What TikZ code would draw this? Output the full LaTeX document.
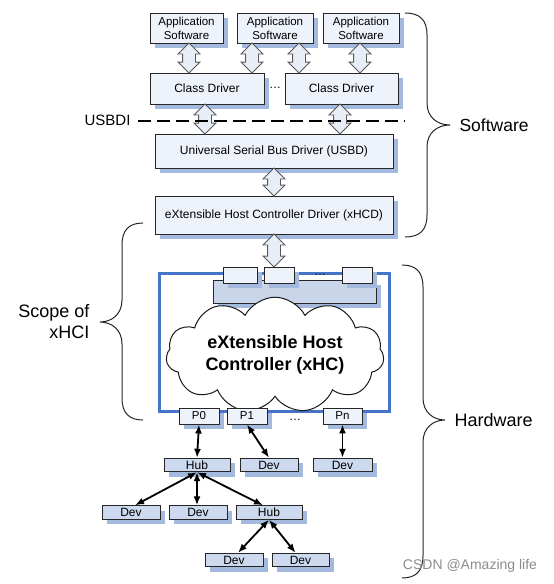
\documentclass[tikz,border=0pt]{standalone}
\usepackage{fontspec}
\setmainfont{Liberation Sans}
\usetikzlibrary{shapes.arrows,shapes.symbols,shadows,arrows.meta}
\definecolor{boxfill}{HTML}{EEF3FB}
\definecolor{devfill}{HTML}{CDD9EE}
\definecolor{shadowc}{HTML}{A3B9DE}
\definecolor{framec}{HTML}{4674C6}
\definecolor{arrfill}{HTML}{E8EEF8}
\definecolor{barfill}{HTML}{C9D6EA}
\begin{document}
\begin{tikzpicture}[x=1pt,y=-1pt,
  sh/.style={drop shadow={shadow xshift=5pt,shadow yshift=-5pt,fill=shadowc,opacity=1}},
  box/.style={draw=black!85,line width=0.9pt,fill=boxfill,inner sep=0pt,align=center,sh,
    font=\fontsize{12}{14}\selectfont},
  appbox/.style={box,font=\fontsize{11.5}{14}\selectfont,minimum height=30pt},
  portbox/.style={box,font=\fontsize{11.5}{13}\selectfont,minimum height=16pt,minimum width=40pt},
  devbox/.style={box,fill=devfill,minimum height=13.5pt},
  harrow/.style={double arrow,draw=black!65,fill=arrfill,line width=0.8pt,inner xsep=0pt,inner ysep=6pt,
    double arrow head extend=4.5pt,double arrow head indent=0pt,rotate=90},
  blk/.style={line width=1.8pt,{Latex[length=9pt,width=7pt]}-{Latex[length=9pt,width=7pt]}},
  brc/.style={line width=1pt,black!85},
  lbl/.style={font=\fontsize{18}{21}\selectfont},
]
\useasboundingbox (0,0) rectangle (554,584);
% software boxes
\node[appbox,minimum width=73pt] (app1) at (186.5,28) {Application\\Software};
\node[appbox,minimum width=76pt] (app2) at (275,28) {Application\\Software};
\node[appbox,minimum width=76pt] (app3) at (361,28) {Application\\Software};
\node[box,minimum width=114pt,minimum height=31pt] (cd1) at (207,88.5) {Class Driver};
\node[box,minimum width=113pt,minimum height=31pt] (cd2) at (341.5,88.5) {Class Driver};
\node[font=\fontsize{12}{14}\selectfont] (cddots) at (275,88) {…};
\node[box,minimum width=238pt,minimum height=34pt] (usbd) at (274,151) {Universal Serial Bus Driver (USBD)};
\node[box,minimum width=238pt,minimum height=38pt] (xhcd) at (274,215) {eXtensible Host Controller Driver (xHCD)};
% hollow arrows
\node[harrow,minimum height=30pt] (h1) at (189,58) {};
\node[harrow,minimum height=30pt] (h2) at (252,58) {};
\node[harrow,minimum height=30pt] (h3) at (299,58) {};
\node[harrow,minimum height=30pt] (h4) at (360,58) {};
\node[harrow,minimum height=30pt] (h5) at (205,119) {};
\node[harrow,minimum height=30pt] (h6) at (340,119) {};
\node[harrow,minimum height=28pt] (h7) at (274,182) {};
\node[harrow,minimum height=33pt] (h8) at (274,250.5) {};
% USBDI dashed line
\node[anchor=east,font=\fontsize{15}{17}\selectfont] (usbdi) at (134,120) {USBDI};
\coordinate (dashend) at (405,121);
\draw[line width=1.8pt,dash pattern=on 13pt off 6pt] ([xshift=4pt,yshift=-1pt]usbdi.east) -- (dashend);
% xHC frame
\node[draw=framec,line width=3pt,minimum width=230pt,minimum height=138pt] (frame) at (274,342) {};
\node[box,fill=barfill,minimum width=163pt,minimum height=23pt] (bar) at (294.5,291.5) {};
\node[box,minimum width=34pt,minimum height=16pt] (sb1) at (240,275) {};
\node[box,minimum width=30pt,minimum height=16pt] (sb2) at (279,275) {};
\node[box,minimum width=30pt,minimum height=16pt] (sb3) at (357,275) {};
\node[font=\fontsize{12}{14}\selectfont] (bardots) at (320,275) {…};
\node[cloud,cloud puffs=11,cloud puff arc=125,aspect=2.3,draw=black!90,line width=1pt,fill=white,
  minimum width=218pt,minimum height=92pt,inner sep=0pt,align=center,
  font=\bfseries\fontsize{18}{22}\selectfont] (cloud) at (275,355) {eXtensible Host\\Controller (xHC)};
% ports
\node[portbox] (p0) at (199,416) {P0};
\node[portbox] (p1) at (247,416) {P1};
\node[portbox,minimum width=39pt] (pn) at (342.5,416) {Pn};
\node[font=\fontsize{12}{14}\selectfont] (pdots) at (295,420) {…};
% devices
\node[devbox,minimum width=66pt] (hub1) at (197,465) {Hub};
\node[devbox,minimum width=58pt] (dev1) at (269,465) {Dev};
\node[devbox,minimum width=59pt] (devn) at (342.5,465) {Dev};
\node[devbox,minimum width=58pt] (deva) at (131,512.5) {Dev};
\node[devbox,minimum width=58pt] (devb) at (198,512.5) {Dev};
\node[devbox,minimum width=66pt] (hub2) at (269,512.5) {Hub};
\node[devbox,minimum width=58pt] (devc) at (234,560) {Dev};
\node[devbox,minimum width=57pt] (devd) at (300.5,560) {Dev};
% black arrows
\draw[blk] (p0.south) -- (hub1.north);
\draw[blk] (p1.south) -- (dev1.north);
\draw[blk] (pn.south) -- (devn.north);
\draw[blk] (hub1.south) -- ([xshift=4pt]deva.north);
\draw[blk] (hub1.south) -- (devb.north -| hub1.south);
\draw[blk] (hub1.south) -- ([xshift=-6pt]hub2.north);
\draw[blk] (hub2.south) -- ([xshift=4pt]devc.north);
\draw[blk] (hub2.south) -- ([xshift=-5pt]devd.north);
% braces
\coordinate (swtip) at (450,125);
\draw[brc] (405,13) .. controls (420,13) and (427,20) .. (427,35) -- (427,103)
  .. controls (427,117) and (437,125) .. (swtip)
  .. controls (437,125) and (427,133) .. (427,147) -- (427,215)
  .. controls (427,230) and (420,237) .. (405,237);
\node[anchor=west,font=\fontsize{17.5}{20}\selectfont] (sw) at (456,125) {Software};
\coordinate (hwtip) at (445,420);
\draw[brc] (402,265) .. controls (416,265) and (423,272) .. (423,287) -- (423,398)
  .. controls (423,412) and (433,420) .. (hwtip)
  .. controls (433,420) and (423,428) .. (423,442) -- (423,556)
  .. controls (423,571) and (416,578) .. (402,578);
\node[anchor=west,lbl] (hw) at (451,420) {Hardware};
\coordinate (sctip) at (100,322);
\draw[brc] (143,223) .. controls (129,223) and (122,230) .. (122,245) -- (122,300)
  .. controls (122,314) and (112,322) .. (sctip)
  .. controls (112,322) and (122,330) .. (122,344) -- (122,398)
  .. controls (122,413) and (129,420) .. (143,420);
\node[anchor=east,lbl,align=right] (scope) at (93,322) {Scope of\\xHCI};
% watermark
\node[font=\fontsize{14}{16}\selectfont,text=black!45] (wm) at (470,566) {CSDN @Amazing life};
\end{tikzpicture}
\end{document}
